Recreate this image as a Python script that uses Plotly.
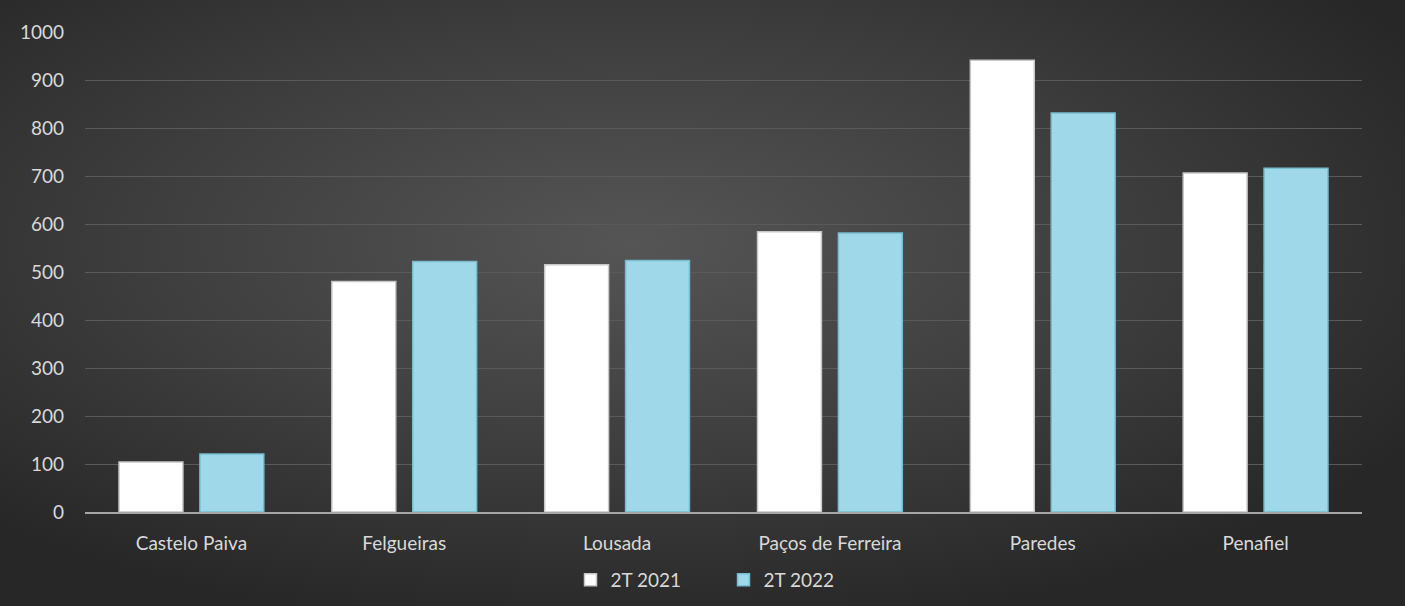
import base64
import plotly.graph_objects as go

categories = ["Castelo Paiva", "Felgueiras", "Lousada", "Paços de Ferreira", "Paredes", "Penafiel"]
series_names = ["2T 2021", "2T 2022"]
values_2021 = [104, 480, 515, 584, 941, 706]
values_2022 = [121, 522, 524, 581, 831, 716]
y_ticks = [0, 100, 200, 300, 400, 500, 600, 700, 800, 900, 1000]

W, H = 1405, 606
ML, MR, MT, MB = 85, 43, 32, 94

svg = f'''<svg xmlns="http://www.w3.org/2000/svg" width="{W}" height="{H}" viewBox="0 0 {W} {H}" preserveAspectRatio="none">
<defs><radialGradient id="g" cx="45%" cy="40%" r="65%" gradientUnits="objectBoundingBox">
<stop offset="0" stop-color="#555555"/><stop offset="0.55" stop-color="#3d3d3d"/><stop offset="1" stop-color="#272727"/>
</radialGradient></defs>
<rect width="{W}" height="{H}" fill="url(#g)"/></svg>'''
src = "data:image/svg+xml;base64," + base64.b64encode(svg.encode()).decode()

pw = W - ML - MR
ph = H - MT - MB

fig = go.Figure()
fig.add_trace(go.Bar(
    x=categories, y=values_2021, name=series_names[0],
    marker=dict(color="#ffffff", line=dict(color="#c8c8c8", width=1.5)),
))
fig.add_trace(go.Bar(
    x=categories, y=values_2022, name=series_names[1],
    marker=dict(color="#9fd8e9", line=dict(color="#78bcd0", width=1.5)),
))

font = "Lato, Noto Sans, sans-serif"
fig.update_layout(
    width=W, height=H,
    margin=dict(l=ML, r=MR, t=MT, b=MB, autoexpand=False),
    paper_bgcolor="#333333",
    plot_bgcolor="rgba(0,0,0,0)",
    barmode="group",
    bargap=0.24,
    bargroupgap=0.21,
    font=dict(family=font, size=19, color="#d9d9d9"),
    images=[dict(
        source=src, xref="paper", yref="paper",
        x=-ML / pw, y=1 + MT / ph, sizex=W / pw, sizey=H / ph,
        xanchor="left", yanchor="top", sizing="stretch", layer="below",
    )],
    xaxis=dict(
        showgrid=False, showline=True, linecolor="#a6a6a6", linewidth=1.5,
        ticks="", ticklabelstandoff=13, tickfont=dict(size=19, color="#d9d9d9"),
    ),
    yaxis=dict(
        range=[0, 1000], tickvals=y_ticks, showgrid=True,
        gridcolor="#5a5a5a", gridwidth=1, zeroline=False,
        showline=False, ticks="", ticklabelstandoff=20,
        tickfont=dict(size=19, color="#d9d9d9"),
    ),
    legend=dict(
        orientation="h", x=0.5, xanchor="center",
        yref="container", y=(H - 580) / H, yanchor="middle",
        font=dict(size=19, color="#d9d9d9"), bgcolor="rgba(0,0,0,0)",
        itemwidth=30, entrywidth=108, entrywidthmode="pixels",
    ),
)

fig.write_html(
    "out.html",
    config={"displayModeBar": False},
    post_script=(
        "document.body.style.margin='0';document.body.style.padding='0';"
        "document.body.style.overflow='hidden';document.documentElement.style.overflow='hidden';"
        "document.body.style.background='#272727';"
    ),
)
